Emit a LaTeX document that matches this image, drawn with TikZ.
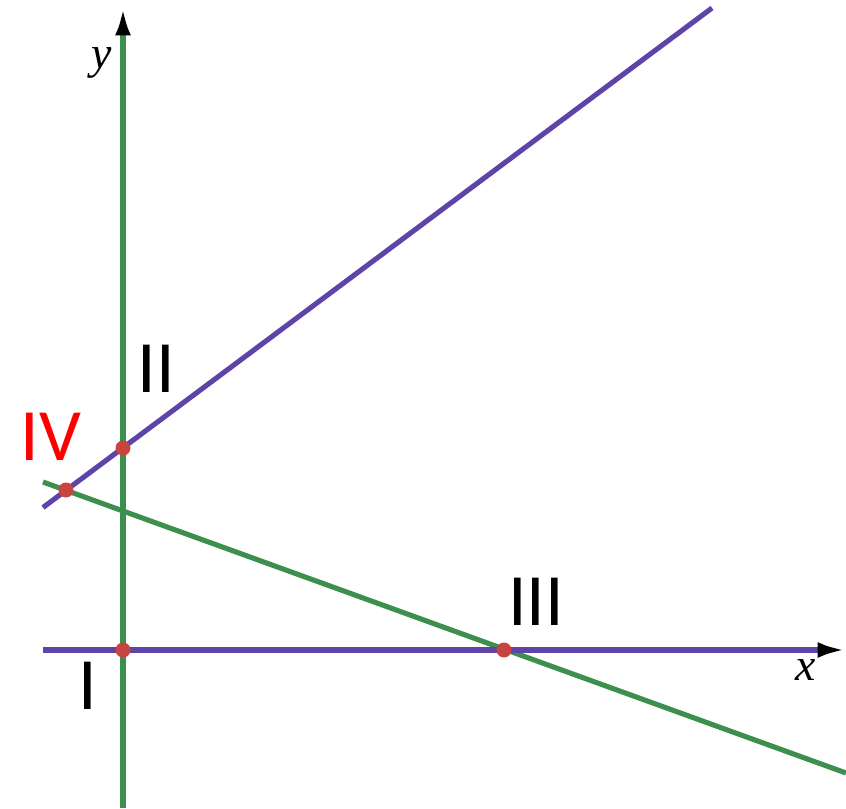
\documentclass[tikz,border=0pt]{standalone}
\usepackage{fontspec}
\usepackage{tikz}
\usetikzlibrary{arrows.meta,positioning,calc}
\newfontfamily\lblfont{Carlito}
\newfontfamily\axfont{Liberation Serif}
\definecolor{lnpurple}{HTML}{5E43A8}
\definecolor{lngreen}{HTML}{3C8F4C}
\definecolor{ptred}{HTML}{C8453F}
\definecolor{lblred}{HTML}{FF0000}

\begin{document}
\begin{tikzpicture}[
  axis/.style={line width=2.9pt,-{Latex[black,length=5.5mm,width=3.2mm]}},
  graph/.style={line width=2.9pt},
  pt/.style={circle,fill=ptred,inner sep=0pt,minimum size=3mm},
  lbl/.style={font=\lblfont\fontsize{42}{46}\selectfont,inner sep=0pt},
  axlbl/.style={font=\axfont\itshape\fontsize{26}{30}\selectfont,inner sep=0pt},
]
\useasboundingbox (-2.46,-3.16) rectangle (14.46,13);
% points of intersection
\coordinate (I) at (0,0);
\coordinate (II) at (0,4.04);
\coordinate (III) at (7.62,0);
\coordinate (IV) at (-1.14,3.2);
% ends of the lines
\coordinate (ybot) at (0,-3.16);
\coordinate (ytop) at (0,12.84);
\coordinate (xleft) at (-1.6,0);
\coordinate (xright) at (14.44,0);
\coordinate (pleft) at (-1.6,2.85);
\coordinate (ptop) at (11.78,12.84);
\coordinate (gleft) at (-1.6,3.36);
\coordinate (gright) at (14.46,-2.46);

\draw[graph,lnpurple] (pleft) -- (ptop);
\draw[graph,lngreen] (gleft) -- (gright);
\draw[axis,lnpurple] (xleft) -- (xright);
\draw[axis,lngreen] (ybot) -- (ytop);

\node[axlbl] (ylbl) at (-0.42,11.75) {y};
\node[axlbl] (xlbl) at (13.66,-0.4) {x};

\node[pt] (pI) at (I) {};
\node[pt] (pII) at (II) {};
\node[pt] (pIII) at (III) {};
\node[pt] (pIV) at (IV) {};

\node[lbl] (lI) at (-0.7,-0.72) {I};
\node[lbl] (lII) at (0.67,5.63) {II};
\node[lbl] (lIII) at (8.26,0.96) {III};
\node[lbl,text=lblred] (lIV) at (-1.44,4.26) {IV};
\end{tikzpicture}
\end{document}
